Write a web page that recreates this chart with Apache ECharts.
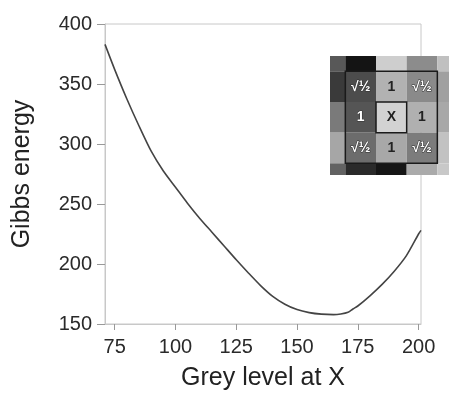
<!DOCTYPE html>
<html>
<head>
<meta charset="utf-8">
<script src="https://cdn.jsdelivr.net/npm/echarts@6/dist/echarts.min.js"></script>
<style>
html,body{margin:0;padding:0;background:#fff;}
#chart{width:449px;height:396px;}
</style>
</head>
<body>
<div id="chart"></div>
<script>
// Main curve: Gibbs energy vs grey level at X
var greyLevel = [71, 75, 80, 85, 90, 95, 100, 105, 110, 115, 120, 125, 130, 135, 140, 145, 150, 155, 160, 165, 168, 171, 173, 175, 180, 185, 190, 195, 200, 201];
var gibbsEnergy = [383, 362, 337.5, 315, 294, 277.5, 264, 250.5, 238, 226.5, 215, 203.5, 192.5, 182, 173, 166.5, 162, 159.5, 158.2, 157.8, 158.3, 159.7, 162.5, 165, 173.5, 183, 194, 207, 225, 228];
var xTicks = [75, 100, 125, 150, 175, 200];
var yTicks = [150, 200, 250, 300, 350, 400];

// Inset: 5x5 neighbourhood grey levels (rows top to bottom) and weight labels
var insetGrey = [
  [88, 20, 206, 140, 192],
  [58, 76, 178, 138, 160],
  [122, 85, 210, 176, 168],
  [166, 108, 168, 124, 194],
  [98, 42, 21, 170, 200]
];
var insetLabels = [
  ['', '', '', '', ''],
  ['', '√½', '1', '√½', ''],
  ['', '1', 'X', '1', ''],
  ['', '√½', '1', '√½', ''],
  ['', '', '', '', '']
];
// frames: [centre column, centre row, span]
var insetFrames = [[2, 2, 3], [2, 2, 1]];

var FONT = "'Liberation Sans', Arial, sans-serif";

var cellData = [];
for (var r = 0; r < insetGrey.length; r++) {
  for (var c = 0; c < insetGrey[r].length; c++) {
    cellData.push([c, r, insetGrey[r][c], insetLabels[r][c]]);
  }
}

var chart = echarts.init(document.getElementById('chart'), null, {renderer: 'canvas'});
chart.setOption({
  animation: false,
  backgroundColor: '#fff',
  grid: [
    {left: 105, right: 28, top: 24, bottom: 71, show: true, borderColor: '#c8c8c8', borderWidth: 1},
    {left: 330, top: 56, width: 119, height: 119, show: false}
  ],
  xAxis: [
    {
      type: 'value', gridIndex: 0, min: 71, max: 201,
      name: 'Grey level at X', nameLocation: 'middle', nameGap: 42,
      nameTextStyle: {fontFamily: FONT, fontSize: 25, color: '#222'},
      axisLine: {show: true, lineStyle: {color: '#c8c8c8', width: 1}},
      axisTick: {show: true, length: 6, customValues: xTicks, lineStyle: {color: '#999'}},
      axisLabel: {customValues: xTicks, fontFamily: FONT, fontSize: 20, color: '#2a2a2a', margin: 13},
      splitLine: {show: false}
    },
    {type: 'value', gridIndex: 1, min: 0, max: 3.88, show: false}
  ],
  yAxis: [
    {
      type: 'value', gridIndex: 0, min: 150, max: 400,
      name: 'Gibbs energy', nameLocation: 'middle', nameGap: 70,
      nameTextStyle: {fontFamily: FONT, fontSize: 25, color: '#222'},
      axisLine: {show: true, lineStyle: {color: '#c8c8c8', width: 1}},
      axisTick: {show: true, length: 8, customValues: yTicks, lineStyle: {color: '#999'}},
      axisLabel: {customValues: yTicks, fontFamily: FONT, fontSize: 20, color: '#2a2a2a', margin: 13},
      splitLine: {show: false}
    },
    {type: 'value', gridIndex: 1, min: 0, max: 3.88, inverse: true, show: false}
  ],
  series: [
    {
      type: 'line', xAxisIndex: 0, yAxisIndex: 0,
      data: greyLevel.map(function (g, i) { return [g, gibbsEnergy[i]]; }),
      showSymbol: false, smooth: 0.25,
      lineStyle: {color: '#444', width: 1.6}
    },
    {
      type: 'custom', xAxisIndex: 1, yAxisIndex: 1, z: 10,
      data: cellData,
      renderItem: function (params, api) {
        var c = api.value(0), r = api.value(1), g = api.value(2);
        var lbl = cellData[params.dataIndex][3];
        var p0 = api.coord([c - 0.5, r - 0.5]);
        var p1 = api.coord([c + 0.5, r + 0.5]);
        var cs = params.coordSys;
        var rect = echarts.graphic.clipRectByRect({
          x: Math.min(p0[0], p1[0]), y: Math.min(p0[1], p1[1]),
          width: Math.abs(p1[0] - p0[0]), height: Math.abs(p1[1] - p0[1])
        }, {x: cs.x, y: cs.y, width: cs.width, height: cs.height});
        if (!rect) return;
        var children = [{
          type: 'rect', shape: rect,
          style: {fill: 'rgb(' + g + ',' + g + ',' + g + ')'}
        }];
        if (lbl) {
          var ctr = api.coord([c, r]);
          var dark = g < 150 && lbl !== 'X';
          children.push({
            type: 'text', x: ctr[0], y: ctr[1],
            style: {
              text: lbl, fontFamily: FONT, fontSize: 14, fontWeight: 'bold',
              fill: dark ? '#fff' : '#222',
              stroke: dark ? '#333' : null, lineWidth: dark ? 1 : 0,
              align: 'center', verticalAlign: 'middle'
            }
          });
        }
        return {type: 'group', children: children};
      }
    },
    {
      type: 'custom', xAxisIndex: 1, yAxisIndex: 1, z: 11,
      data: insetFrames,
      renderItem: function (params, api) {
        var c = api.value(0), r = api.value(1), s = api.value(2) / 2;
        var p0 = api.coord([c - s, r - s]);
        var p1 = api.coord([c + s, r + s]);
        return {
          type: 'rect',
          shape: {x: p0[0], y: p0[1], width: p1[0] - p0[0], height: p1[1] - p0[1]},
          style: {fill: null, stroke: '#1a1a1a', lineWidth: 1.5}
        };
      }
    }
  ]
});
</script>
</body>
</html>
